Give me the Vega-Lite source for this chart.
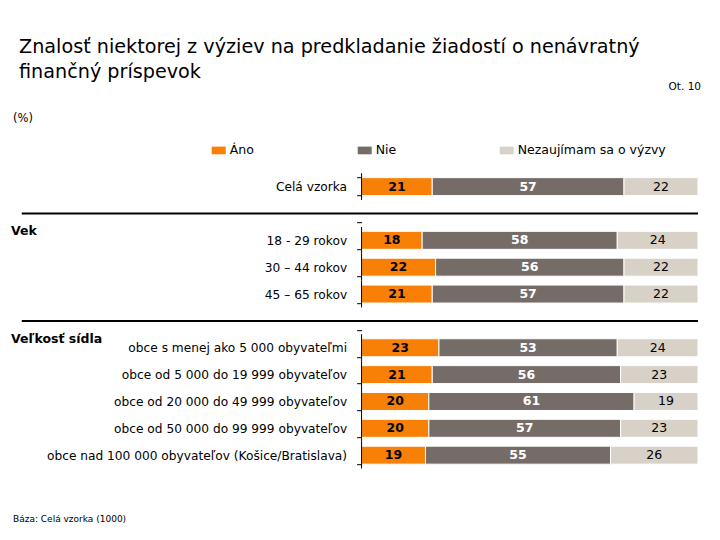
{
  "$schema": "https://vega.github.io/schema/vega-lite/v6.json",
  "width": 688,
  "height": 295.4,
  "autosize": {"type": "none"},
  "padding": {"left": 10, "top": 173.2, "right": 22, "bottom": 71.4},
  "background": "white",
  "title": {
    "text": ["Znalosť niektorej z výziev na predkladanie žiadostí o nenávratný", "finančný príspevok"],
    "anchor": "start",
    "frame": "group",
    "font": "DejaVu Sans",
    "fontSize": 19.2,
    "fontWeight": "normal",
    "color": "black",
    "lineHeight": 25,
    "dx": 9,
    "dy": 61,
    "offset": 60
  },
  "config": {
    "view": {"stroke": null},
    "font": "DejaVu Sans",
    "text": {"font": "DejaVu Sans"}
  },
  "datasets": {
    "bars": [
      {"row": "Celá vzorka", "cat": "Áno", "val": 21},
      {"row": "Celá vzorka", "cat": "Nie", "val": 57},
      {"row": "Celá vzorka", "cat": "Nezaujímam sa o výzvy", "val": 22},
      {"row": "18 - 29 rokov", "cat": "Áno", "val": 18},
      {"row": "18 - 29 rokov", "cat": "Nie", "val": 58},
      {"row": "18 - 29 rokov", "cat": "Nezaujímam sa o výzvy", "val": 24},
      {"row": "30 – 44 rokov", "cat": "Áno", "val": 22},
      {"row": "30 – 44 rokov", "cat": "Nie", "val": 56},
      {"row": "30 – 44 rokov", "cat": "Nezaujímam sa o výzvy", "val": 22},
      {"row": "45 – 65 rokov", "cat": "Áno", "val": 21},
      {"row": "45 – 65 rokov", "cat": "Nie", "val": 57},
      {"row": "45 – 65 rokov", "cat": "Nezaujímam sa o výzvy", "val": 22},
      {"row": "obce s menej ako 5 000 obyvateľmi", "cat": "Áno", "val": 23},
      {"row": "obce s menej ako 5 000 obyvateľmi", "cat": "Nie", "val": 53},
      {"row": "obce s menej ako 5 000 obyvateľmi", "cat": "Nezaujímam sa o výzvy", "val": 24},
      {"row": "obce od 5 000 do 19 999 obyvateľov", "cat": "Áno", "val": 21},
      {"row": "obce od 5 000 do 19 999 obyvateľov", "cat": "Nie", "val": 56},
      {"row": "obce od 5 000 do 19 999 obyvateľov", "cat": "Nezaujímam sa o výzvy", "val": 23},
      {"row": "obce od 20 000 do 49 999 obyvateľov", "cat": "Áno", "val": 20},
      {"row": "obce od 20 000 do 49 999 obyvateľov", "cat": "Nie", "val": 61},
      {"row": "obce od 20 000 do 49 999 obyvateľov", "cat": "Nezaujímam sa o výzvy", "val": 19},
      {"row": "obce od 50 000 do 99 999 obyvateľov", "cat": "Áno", "val": 20},
      {"row": "obce od 50 000 do 99 999 obyvateľov", "cat": "Nie", "val": 57},
      {"row": "obce od 50 000 do 99 999 obyvateľov", "cat": "Nezaujímam sa o výzvy", "val": 23},
      {"row": "obce nad 100 000 obyvateľov (Košice/Bratislava)", "cat": "Áno", "val": 19},
      {"row": "obce nad 100 000 obyvateľov (Košice/Bratislava)", "cat": "Nie", "val": 55},
      {"row": "obce nad 100 000 obyvateľov (Košice/Bratislava)", "cat": "Nezaujímam sa o výzvy", "val": 26}
    ],
    "rows": [
      {"row": "Celá vzorka"},
      {"row": "18 - 29 rokov"},
      {"row": "30 – 44 rokov"},
      {"row": "45 – 65 rokov"},
      {"row": "obce s menej ako 5 000 obyvateľmi"},
      {"row": "obce od 5 000 do 19 999 obyvateľov"},
      {"row": "obce od 20 000 do 49 999 obyvateľov"},
      {"row": "obce od 50 000 do 99 999 obyvateľov"},
      {"row": "obce nad 100 000 obyvateľov (Košice/Bratislava)"}
    ],
    "headers": [
      {"row": " ", "label": "Vek"},
      {"row": "  ", "label": "Veľkosť sídla"}
    ]
  },
  "encoding": {
    "y": {
      "field": "row",
      "type": "nominal",
      "scale": {
        "domain": ["Celá vzorka", " ", "18 - 29 rokov", "30 – 44 rokov", "45 – 65 rokov", "  ", "obce s menej ako 5 000 obyvateľmi", "obce od 5 000 do 19 999 obyvateľov", "obce od 20 000 do 49 999 obyvateľov", "obce od 50 000 do 99 999 obyvateľov", "obce nad 100 000 obyvateľov (Košice/Bratislava)"],
        "paddingInner": 0.33,
        "paddingOuter": 0.165
      },
      "axis": {
        "orient": "left",
        "offset": -351.6,
        "title": null,
        "domain": false,
        "grid": false,
        "ticks": true,
        "tickBand": "extent",
        "tickSize": 5,
        "tickColor": "black",
        "tickWidth": 1,
        "labelFont": "DejaVu Sans",
        "labelFontSize": 12.2,
        "labelColor": "black",
        "labelPadding": 10,
        "labelLimit": 400
      }
    }
  },
  "layer": [
    {
      "data": {"name": "bars"},
      "transform": [
        {"stack": "val", "groupby": ["row"], "sort": [{"field": "cat", "order": "descending"}], "as": ["v0", "v1"]}
      ],
      "mark": {"type": "bar", "stroke": "white", "strokeWidth": 1},
      "encoding": {
        "x": {"field": "v0", "type": "quantitative", "scale": {"domain": [-104.5, 100], "nice": false, "zero": false}, "axis": null},
        "x2": {"field": "v1"},
        "color": {
          "field": "cat",
          "type": "nominal",
          "scale": {"domain": ["Áno", "Nie", "Nezaujímam sa o výzvy"], "range": ["#F88007", "#756C68", "#D7D1C7"]},
          "legend": {
            "orient": "none",
            "legendX": 201.7,
            "legendY": -30,
            "direction": "horizontal",
            "title": null,
            "padding": 0,
            "symbolType": "M-1,-0.55L1,-0.55L1,0.55L-1,0.55Z",
            "symbolSize": 196,
            "symbolStrokeWidth": 0,
            "symbolOpacity": 1,
            "labelFont": "DejaVu Sans",
            "labelFontSize": 12.5,
            "labelColor": "black",
            "labelOffset": 4,
            "columnPadding": 103,
            "labelLimit": 300
          }
        }
      }
    },
    {
      "data": {"name": "bars"},
      "transform": [
        {"stack": "val", "groupby": ["row"], "sort": [{"field": "cat", "order": "descending"}], "as": ["v0", "v1"]},
        {"calculate": "(datum.v0 + datum.v1) / 2", "as": "mid"},
        {"filter": "datum.cat !== 'Nezaujímam sa o výzvy'"}
      ],
      "mark": {"type": "text", "fontWeight": "bold", "fontSize": 12.5, "baseline": "middle", "align": "center"},
      "encoding": {
        "x": {"field": "mid", "type": "quantitative", "scale": {"domain": [-104.5, 100], "nice": false, "zero": false}, "axis": null},
        "text": {"field": "val", "type": "quantitative"},
        "color": {"condition": {"test": "datum.cat === 'Nie'", "value": "white"}, "value": "black"}
      }
    },
    {
      "data": {"name": "bars"},
      "transform": [
        {"stack": "val", "groupby": ["row"], "sort": [{"field": "cat", "order": "descending"}], "as": ["v0", "v1"]},
        {"calculate": "(datum.v0 + datum.v1) / 2", "as": "mid"},
        {"filter": "datum.cat === 'Nezaujímam sa o výzvy'"}
      ],
      "mark": {"type": "text", "fontSize": 12.5, "baseline": "middle", "align": "center", "color": "black"},
      "encoding": {
        "x": {"field": "mid", "type": "quantitative", "scale": {"domain": [-104.5, 100], "nice": false, "zero": false}, "axis": null},
        "text": {"field": "val", "type": "quantitative"}
      }
    },
    {
      "data": {"name": "rows"},
      "mark": {"type": "tick", "orient": "vertical", "size": 26.85, "thickness": 1, "color": "black", "opacity": 1},
      "encoding": {
        "x": {"datum": 0, "type": "quantitative", "scale": {"domain": [-104.5, 100], "nice": false, "zero": false}, "axis": null}
      }
    },
    {
      "data": {"values": [{"row": " "}, {"row": "  "}]},
      "mark": {"type": "rule", "color": "black", "strokeWidth": 2},
      "encoding": {
        "x": {"datum": -101, "type": "quantitative", "scale": {"domain": [-104.5, 100], "nice": false, "zero": false}, "axis": null},
        "x2": {"datum": 100}
      }
    },
    {
      "data": {"name": "headers"},
      "mark": {"type": "text", "align": "left", "baseline": "middle", "dy": 18, "dx": 1, "fontWeight": "bold", "fontSize": 12.5, "color": "black"},
      "encoding": {
        "x": {"datum": -104.5, "type": "quantitative", "scale": {"domain": [-104.5, 100], "nice": false, "zero": false}, "axis": null},
        "text": {"field": "label"}
      }
    },
    {
      "data": {"values": [{"row": "Celá vzorka", "t": "Ot. 10"}]},
      "mark": {"type": "text", "align": "right", "baseline": "middle", "dy": -100, "dx": 3, "fontSize": 10.5, "color": "black"},
      "encoding": {
        "x": {"datum": 100, "type": "quantitative", "scale": {"domain": [-104.5, 100], "nice": false, "zero": false}, "axis": null},
        "text": {"field": "t"}
      }
    },
    {
      "data": {"values": [{"row": "Celá vzorka", "t": "(%)"}]},
      "mark": {"type": "text", "align": "left", "baseline": "middle", "dy": -68, "dx": 3, "fontSize": 11.5, "color": "black"},
      "encoding": {
        "x": {"datum": -104.5, "type": "quantitative", "scale": {"domain": [-104.5, 100], "nice": false, "zero": false}, "axis": null},
        "text": {"field": "t"}
      }
    },
    {
      "data": {"values": [{"row": "obce nad 100 000 obyvateľov (Košice/Bratislava)", "t": "Báza:  Celá vzorka (1000)"}]},
      "mark": {"type": "text", "align": "left", "baseline": "middle", "dy": 64, "dx": 3, "fontSize": 9, "color": "black"},
      "encoding": {
        "x": {"datum": -104.5, "type": "quantitative", "scale": {"domain": [-104.5, 100], "nice": false, "zero": false}, "axis": null},
        "text": {"field": "t"}
      }
    }
  ]
}
